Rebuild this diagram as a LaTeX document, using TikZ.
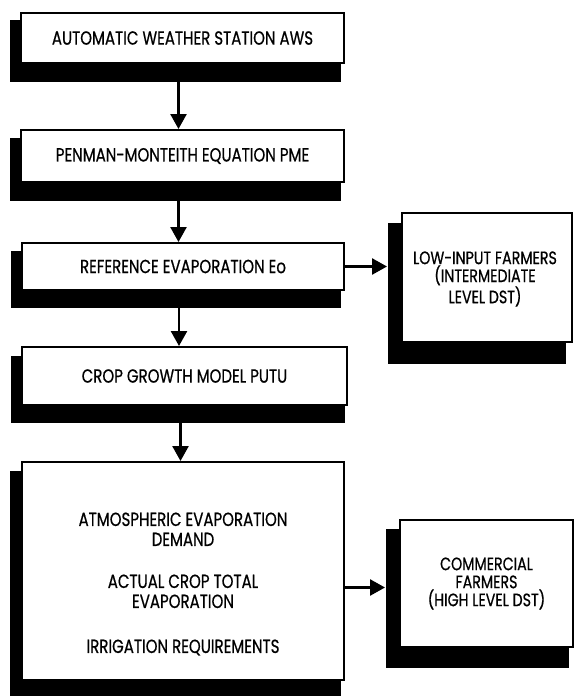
\documentclass[tikz,border=0pt]{standalone}
\usepackage{fontspec}
\setmainfont[FakeStretch=0.79,FakeBold=0.6]{Poppins}
\usetikzlibrary{arrows.meta,backgrounds}
% black drop shadow behind a box: #1 node, #2 left, #3 top, #4 right, #5 bottom offsets
\newcommand{\dropshade}[5]{%
  \begin{scope}[on background layer]
    \fill[black] ([xshift=-#2pt,yshift=-#3pt]#1.north west) rectangle ([xshift=-#4pt,yshift=-#5pt]#1.south east);
  \end{scope}}
\begin{document}
\begin{tikzpicture}[x=1pt,y=-1pt,
  flowbox/.style={draw=black, line width=2pt, fill=white, inner sep=0pt,
    font=\fontsize{19}{20}\selectfont, align=center},
  flowtext/.style={font=\fontsize{19}{20}\selectfont, align=center, inner sep=0pt},
  arr/.style={line width=2.5pt, -{Triangle[length=15pt,width=16pt]}}]
\useasboundingbox (0,0) rectangle (574,696);
% main chain
\node[flowbox, minimum width=323pt, minimum height=50pt] (B1) at (182.5,38) {AUTOMATIC WEATHER STATION AWS};
\node[flowbox, minimum width=323pt, minimum height=52pt] (B2) at (182.5,156) {PENMAN-MONTEITH EQUATION PME};
\node[flowbox, minimum width=322pt, minimum height=47pt] (B3) at (183,266.5) {REFERENCE EVAPORATION Eo};
\node[flowbox, minimum width=325pt, minimum height=58pt] (B4) at (184.5,376) {CROP GROWTH MODEL PUTU};
\node[flowbox, minimum width=322pt, minimum height=218pt] (B5) at (183,571) {};
\node[flowtext] (B5t) at (183,584) {ATMOSPHERIC EVAPORATION\\DEMAND\\[22pt]ACTUAL CROP TOTAL\\EVAPORATION\\[25pt]IRRIGATION REQUIREMENTS};
% side outputs
\node[flowbox, minimum width=170pt, minimum height=129pt, font=\fontsize{18}{16}\selectfont] (R1) at (487,277.5) {};
\node[flowtext, font=\fontsize{18}{16}\selectfont] (R1t) at (485,279) {LOW-INPUT FARMERS\\(INTERMEDIATE\\LEVEL DST)};
\node[flowbox, minimum width=173pt, minimum height=127pt, font=\fontsize{18}{18}\selectfont] (R2) at (486.5,583.5) {COMMERCIAL\\FARMERS\\(HIGH LEVEL DST)};
% shadows
\dropshade{B1}{10}{8}{4}{18}
\dropshade{B2}{10}{9}{4}{18}
\dropshade{B3}{10}{9}{4}{17}
\dropshade{B4}{10}{10}{3}{17}
\dropshade{B5}{11}{10}{4}{15}
\dropshade{R1}{13}{11}{7}{21}
\dropshade{R2}{13}{10}{5}{20}
% connectors
\draw[arr] ([xshift=-4pt]B1.south) -- ([xshift=-4pt]B1.south |- B2.north);
\draw[arr] ([xshift=-4pt]B2.south) -- ([xshift=-4pt]B2.south |- B3.north);
\draw[arr] ([xshift=-4pt]B3.south) -- ([xshift=-4pt]B3.south |- B4.north);
\draw[arr] ([xshift=-4pt]B4.south) -- ([xshift=-4pt]B4.south |- B5.north);
\coordinate (r1in) at ([xshift=-14pt,yshift=11pt]R1.west);
\draw[arr] (B3.east |- r1in) -- (r1in);
\coordinate (r2in) at ([xshift=-14pt,yshift=-4pt]R2.west);
\draw[arr] (B5.east |- r2in) -- (r2in);
\end{tikzpicture}
\end{document}
